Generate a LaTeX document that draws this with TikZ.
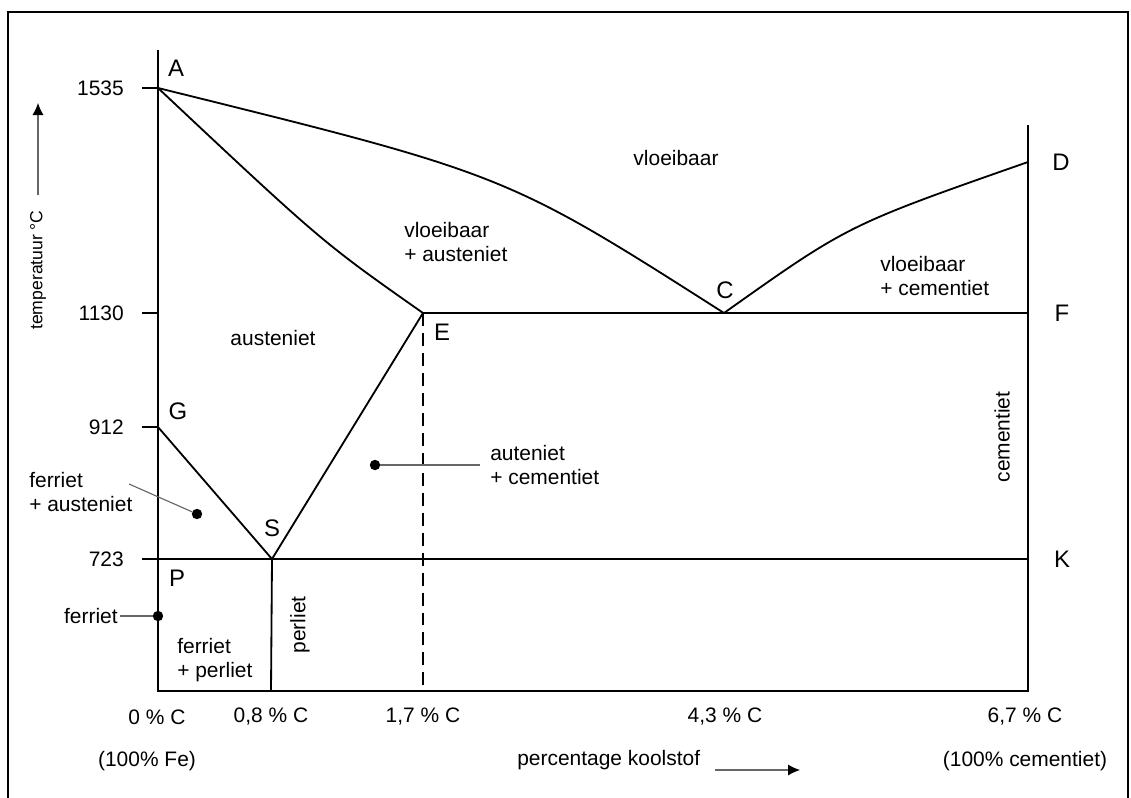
\documentclass[tikz,border=0pt]{standalone}
\usepackage{fontspec}
\setmainfont{Liberation Sans}
\usetikzlibrary{arrows.meta}

\begin{document}
\begin{tikzpicture}[x=0.025cm,y=-0.025cm,
    font=\fontsize{14.9}{17.2}\selectfont,
    every node/.style={inner sep=0pt},
    phase/.style={line width=1.3pt},
    pname/.style={font=\fontsize{17}{20}\selectfont},
    leader/.style={draw=black!60, line width=0.8pt},
    dot/.style={circle, fill=black, minimum size=0.26cm},
    axisarrow/.style={draw=black!60, line width=0.8pt, -{Latex[length=0.3cm,width=0.28cm,black]}},
    region/.style={align=left, anchor=west}]

    \useasboundingbox (0,0) rectangle (1131,797);

    %frame
        \draw[line width=0.9pt] (8,810) -- (8,12) -- (1128,12) -- (1128,810);

    %mark points of the diagram
        \coordinate (A) at (158,88);
        \coordinate (C) at (724,313);
        \coordinate (D) at (1028,162);
        \coordinate (E) at (423,313);
        \coordinate (F) at (1028,313);
        \coordinate (G) at (158,427);
        \coordinate (S) at (272,559);
        \coordinate (P) at (158,559);
        \coordinate (K) at (1028,559);
        \coordinate (O) at (158,691);
        \coordinate (Q) at (1028,691);

    %axes and temperature ticks
        \draw[phase] (158,50) -- (O) -- (Q) -- (1028,125);
        \foreach \y/\t in {88/1535, 313/1130, 427/912, 559/723}{
            \draw[phase] (142,\y) -- (158,\y);
            \node[anchor=east] (t\t) at (124,\y) {\t};
        }

    %phase lines
        \draw[phase] (A) .. controls (506,174) .. (C);
        \draw[phase] (A) .. controls (322,242) .. (E);
        \draw[phase] (C) .. controls (848,225) .. (D);
        \draw[phase] (G) -- (S) -- (E) -- (F);
        \draw[phase] (P) -- (K);
        \draw[phase] (S) -- (271,691);
        \draw[phase, dash pattern=on 9.2pt off 5pt] (E) -- (423,691);

    %point names
        \node[pname] (lA) at (176,68) {A};
        \node[pname] (lC) at (725,290) {C};
        \node[pname] (lD) at (1061,162) {D};
        \node[pname] (lE) at (442,332) {E};
        \node[pname] (lF) at (1062,313) {F};
        \node[pname] (lG) at (178,411) {G};
        \node[pname] (lS) at (272,528) {S};
        \node[pname] (lP) at (177,578) {P};
        \node[pname] (lK) at (1062,559) {K};

    %regions
        \node (liq) at (676,158) {vloeibaar};
        \node[region] (liqaus) at (404,242) {vloeibaar\\+ austeniet};
        \node[region] (liqcem) at (880,276) {vloeibaar\\+ cementiet};
        \node (aus) at (273,338) {austeniet};
        \node[region] (auscem) at (490,465) {auteniet\\+ cementiet};
        \node[region] (feraus) at (29,492) {ferriet\\+ austeniet};
        \node[region] (ferper) at (177,660) {ferriet\\+ perliet};
        \node[anchor=east] (fer) at (118,616) {ferriet};
        \node[rotate=90] (per) at (300,625) {perliet};
        \node[rotate=90] (cem) at (1002,437) {cementiet};

    %pointers
        \node[dot] (dauscem) at (375,465) {};
        \node[dot] (dferaus) at (197,514) {};
        \node[dot] (dfer) at (158,616) {};
        \coordinate (feraustail) at (129,484);
        \draw[leader, shorten >=0.25cm] (dauscem) -- (auscem.west);
        \draw[leader] (dferaus) -- (feraustail);
        \draw[leader, shorten <=0.05cm] (fer.east) -- (dfer);

    %carbon percentages
        \node (c0) at (157,717) {0 \% C};
        \node (c08) at (271,717) {0,8 \% C};
        \node (c17) at (423,717) {1,7 \% C};
        \node (c43) at (725,717) {4,3 \% C};
        \node (c67) at (1025,717) {6,7 \% C};
        \node (fe) at (147,761) {(100\% Fe)};
        \node (cemfull) at (1025,761) {(100\% cementiet)};

    %axis titles
        \node[anchor=west] (xtitle) at (517,760) {percentage koolstof};
        \coordinate (xtip) at (800,770);
        \draw[axisarrow] (715,770) -- (xtip);
        \node[rotate=90, font=\fontsize{12.5}{15}\selectfont] (ytitle) at (38,270) {temperatuur °C};
        \coordinate (ytip) at (38,103);
        \draw[axisarrow, shorten <=0.375cm] (ytitle.east) -- (ytip);

\end{tikzpicture}
\end{document}
